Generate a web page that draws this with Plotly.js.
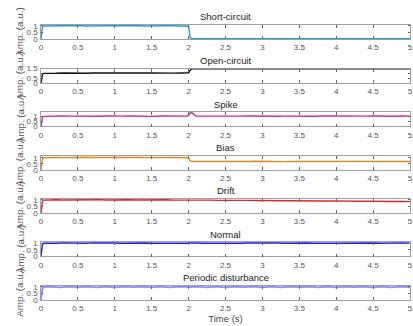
<!DOCTYPE html>
<html>
<head>
<meta charset="utf-8">
<script src="https://cdn.plot.ly/plotly-3.0.1.min.js"></script>
<style>html,body{margin:0;padding:0;background:#fff;}#chart{width:413px;height:326px;}</style>
</head>
<body>
<div id="chart"></div>
<script>
// ---- data ----
const time = [0,0.02,0.04,0.1,0.2,0.3,0.4,0.5,0.6,0.7,0.8,0.9,1.0,1.1,1.2,1.3,1.4,1.5,1.6,1.7,1.8,1.9,1.98,2.0,2.02,2.04,2.06,2.1,2.2,2.3,2.4,2.5,2.6,2.7,2.8,2.9,3.0,3.1,3.2,3.3,3.4,3.5,3.6,3.7,3.8,3.9,4.0,4.1,4.2,4.3,4.4,4.5,4.6,4.7,4.8,4.9,5.0];
const shortCircuit = [0,0.93,0.99,1.0,1.01,0.99,1.0,1.02,0.99,1.01,0.98,1.0,1.01,0.99,1.02,1.0,0.99,1.01,0.98,1.0,1.01,0.99,1.0,0.97,0.12,0.04,0.03,
  0.03,0.02,0.03,0.03,0.02,0.03,0.02,0.03,0.03,0.02,0.03,0.02,0.03,0.03,0.02,0.03,0.03,0.02,0.03,0.02,0.03,0.03,0.02,0.03,0.02,0.03,0.03,0.02,0.03,0.03];
const openCircuit = [0,0.92,1.0,1.03,1.01,1.04,1.02,1.03,1.01,1.04,1.02,1.01,1.03,1.04,1.02,1.01,1.03,1.04,1.01,1.03,1.02,1.04,1.03,1.05,1.3,1.44,1.46,
  1.46,1.46,1.46,1.46,1.46,1.46,1.46,1.46,1.46,1.46,1.46,1.46,1.46,1.46,1.46,1.46,1.46,1.46,1.46,1.46,1.46,1.46,1.46,1.46,1.46,1.46,1.46,1.46,1.46,1.46];
const spike = [0,0.92,0.98,1.0,0.99,1.01,1.0,0.98,1.01,1.0,0.99,1.01,0.98,1.0,1.01,0.99,1.0,0.98,1.01,1.0,0.99,1.01,1.0,1.08,1.3,1.36,1.22,
  1.02,1.0,0.99,1.01,1.0,0.98,1.0,1.01,0.99,1.0,1.01,0.99,1.0,0.98,1.01,1.0,0.99,1.01,1.0,0.98,1.0,1.01,0.99,1.0,1.01,0.98,1.0,0.99,1.01,1.0];
const bias = [0,0.93,1.0,1.03,1.04,1.02,1.04,1.03,1.05,1.03,1.04,1.02,1.04,1.05,1.03,1.04,1.02,1.04,1.03,1.05,1.04,1.03,1.04,1.0,0.78,0.72,0.7,
  0.71,0.7,0.72,0.7,0.71,0.69,0.71,0.7,0.72,0.7,0.71,0.7,0.69,0.71,0.7,0.72,0.7,0.71,0.69,0.7,0.71,0.7,0.72,0.7,0.71,0.69,0.7,0.71,0.7,0.7];
const drift = [0,0.92,0.98,1.0,1.01,0.99,1.0,1.01,0.99,1.0,1.0,0.99,1.01,0.99,1.0,0.99,1.0,0.98,0.99,1.0,0.98,0.99,0.99,0.98,0.99,0.98,0.99,
  0.98,0.97,0.98,0.96,0.97,0.96,0.95,0.96,0.95,0.94,0.95,0.93,0.94,0.93,0.92,0.93,0.92,0.91,0.92,0.90,0.91,0.90,0.89,0.90,0.88,0.89,0.87,0.88,0.86,0.86];
const normal = [0,0.93,1.0,1.02,1.0,1.03,1.01,1.02,1.0,1.03,1.01,1.0,1.02,1.01,1.03,1.0,1.02,1.01,1.0,1.03,1.01,1.02,1.0,1.02,1.01,1.03,1.0,
  1.02,1.01,1.0,1.03,1.01,1.02,1.0,1.02,1.03,1.01,1.0,1.02,1.01,1.03,1.0,1.02,1.01,1.03,1.0,1.01,1.02,1.0,1.03,1.01,1.02,1.0,1.02,1.01,1.03,1.0];
const periodicTime = [0,0.02,0.04,0.125,0.25,0.375,0.5,0.625,0.75,0.875,1.0,1.125,1.25,1.375,1.5,1.625,1.75,1.875,2.0,2.125,2.25,2.375,2.5,2.625,2.75,2.875,3.0,3.125,3.25,3.375,3.5,3.625,3.75,3.875,4.0,4.125,4.25,4.375,4.5,4.625,4.75,4.875,5.0];
const periodic = [0,0.9,0.97,1.01,0.96,1.02,0.97,1.01,0.96,1.02,0.96,1.01,0.97,1.02,0.96,1.01,0.96,1.02,0.97,1.01,0.96,1.02,0.96,1.01,0.97,1.02,0.96,1.01,0.96,1.02,0.97,1.01,0.96,1.02,0.96,1.01,0.97,1.02,0.96,1.01,0.96,1.02,0.97];

const titles = ['Short-circuit','Open-circuit','Spike','Bias','Drift','Normal','Periodic disturbance'];
const xTickVals = [0,0.5,1,1.5,2,2.5,3,3.5,4,4.5,5];
const xTickText = ['0','0.5','1','1.5','2','2.5','3','3.5','4','4.5','5'];
const yRanges = [[0,1.1],[0,1.5],[0,1.4],[0,1.2],[0,1.1],[0,1.1],[0,1.1]];
const yTickVals = [[0,0.5,1],[0,0.5,1,1.5],[0,0.5,1],[0,0.5,1],[0,0.5,1],[0,0.5,1],[0,0.5,1]];
const yTickText = [['0','0.5','1'],['0','0.5','','1.5'],['0','0.5','1'],['0','0.5','1'],['0','0.5','1'],['0','0.5','1'],['0','0.5','1']];

// ---- styling ----
const series = [
  {x: time, y: shortCircuit, color: '#1f9ed1', w: 1.4},
  {x: time, y: openCircuit, color: '#111111', w: 1.4},
  {x: time, y: spike, color: '#d4288c', w: 1.4},
  {x: time, y: bias, color: '#e0891c', w: 1.4},
  {x: time, y: drift, color: '#e3242b', w: 1.4},
  {x: time, y: normal, color: '#1c1ce0', w: 1.4},
  {x: periodicTime, y: periodic, color: '#8c8cf5', w: 1.8}
];
const W = 413, H = 326, L = 41, R = 3;
const rowTops = [24.5, 68.5, 112, 155.5, 198.5, 242, 285.5];
const rowH = 14.5;

const traces = [];
const layout = {
  width: W, height: H,
  margin: {l: L, r: R, t: 0, b: 0},
  paper_bgcolor: '#fff', plot_bgcolor: '#fff',
  showlegend: false,
  font: {family: 'Liberation Sans, Arial, sans-serif', color: '#444'},
  annotations: []
};
const pw = W - L - R;
for (let i = 0; i < 7; i++) {
  const sfx = i === 0 ? '' : String(i + 1);
  traces.push({
    x: series[i].x, y: series[i].y, type: 'scatter', mode: 'lines',
    line: {color: series[i].color, width: series[i].w},
    xaxis: 'x' + sfx, yaxis: 'y' + sfx, hoverinfo: 'skip'
  });
  const top = rowTops[i], bot = top + rowH;
  layout['xaxis' + sfx] = {
    domain: [0, 1], anchor: 'y' + sfx, range: [0, 5],
    tickvals: xTickVals, ticktext: xTickText,
    ticks: 'inside', ticklen: 3, tickcolor: '#666', mirror: 'ticks',
    showline: true, linecolor: '#8a8a8a', linewidth: 0.8,
    showgrid: false, zeroline: false,
    tickfont: {size: 8, color: '#555'}, ticklabelstandoff: 1
  };
  if (i === 6) {
    layout['xaxis' + sfx].title = {text: 'Time (s)', font: {size: 9.5, color: '#444'}, standoff: 2};
  }
  layout['yaxis' + sfx] = {
    domain: [(H - bot) / H, (H - top) / H], anchor: 'x' + sfx,
    range: yRanges[i], tickvals: yTickVals[i], ticktext: yTickText[i],
    ticks: 'inside', ticklen: 2, tickcolor: '#666', mirror: 'ticks',
    showline: true, linecolor: '#8a8a8a', linewidth: 0.8,
    showgrid: false, zeroline: false,
    tickfont: {size: 8, color: '#555'}, ticklabelstandoff: 1
  };
  layout.annotations.push({
    text: titles[i], xref: 'paper', yref: 'paper',
    x: 0.5, y: (H - (top - 8)) / H, xanchor: 'center', yanchor: 'middle',
    showarrow: false, font: {size: 9.5, color: '#222'}
  });
  layout.annotations.push({
    text: 'Amp. (a.u.)', xref: 'paper', yref: 'paper', textangle: -90,
    x: (20 - L) / pw, y: (H - (top + rowH / 2)) / H, xanchor: 'center', yanchor: 'middle',
    showarrow: false, font: {size: 9.8, color: '#555'}
  });
}
Plotly.newPlot('chart', traces, layout, {staticPlot: true, displayModeBar: false});
</script>
</body>
</html>
